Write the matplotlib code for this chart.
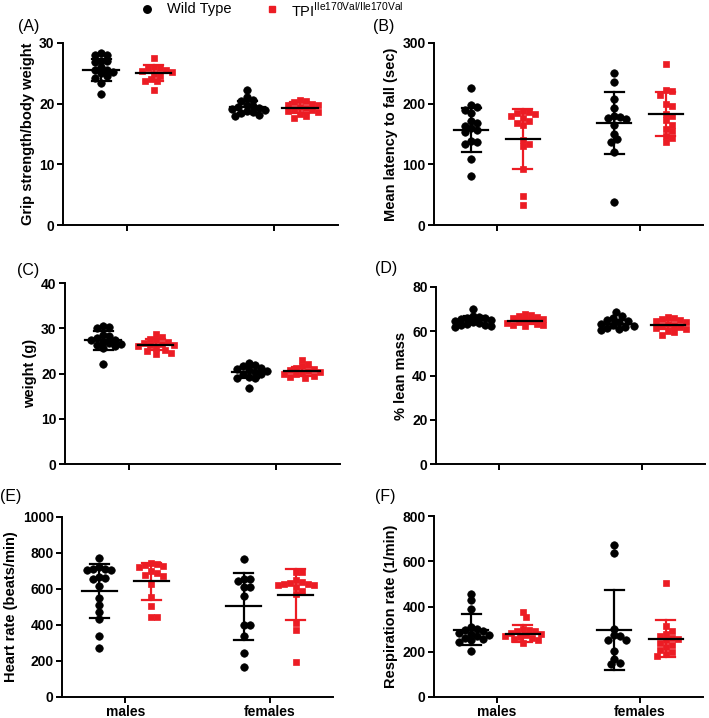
import numpy as np
import matplotlib
matplotlib.use("Agg")
import matplotlib.pyplot as plt
from matplotlib.lines import Line2D

plt.rcParams['font.family'] = ['Liberation Sans', 'DejaVu Sans']

groups = ['males', 'females']
series = ['Wild Type', 'TPI$^{\\mathregular{Ile170Val/Ile170Val}}$']

# (A) grip strength / body weight
grip_wt_m = [28.4, 28.1, 28.0, 27.1, 27.0, 26.8, 26.0, 25.6, 25.5, 25.3, 25.0, 24.6, 24.2, 23.4, 21.6]
grip_tpi_m = [27.5, 26.1, 25.9, 25.8, 25.6, 25.4, 25.2, 24.9, 24.6, 24.0, 23.8, 23.7, 22.2]
grip_wt_f = [22.2, 21.1, 20.6, 20.4, 19.8, 19.6, 19.5, 19.3, 19.2, 19.0, 18.8, 18.6, 18.4, 18.2, 17.9]
grip_tpi_f = [20.6, 20.4, 20.2, 20.0, 19.8, 19.7, 19.5, 19.3, 19.2, 19.0, 18.8, 18.6, 18.3, 17.9, 17.6]
grip_mean = [25.5, 25.0, 19.4, 19.3]
grip_sd = [1.8, 1.3, 1.0, 0.9]

# (B) rotarod latency
fall_wt_m = [226, 197, 195, 190, 185, 172, 168, 164, 160, 157, 153, 138, 136, 133, 108, 80]
fall_tpi_m = [188, 186, 184, 183, 180, 176, 172, 168, 165, 140, 133, 130, 92, 47, 33]
fall_wt_f = [250, 236, 207, 193, 180, 178, 177, 175, 165, 150, 141, 137, 120, 38]
fall_tpi_f = [266, 223, 221, 215, 200, 196, 183, 180, 173, 165, 158, 155, 146, 144, 136]
fall_mean = [157, 142, 168, 183]
fall_sd = [36, 49, 51, 37]

# (C) body weight
wt_wt_m = [30.6, 30.3, 30.1, 28.5, 28.2, 27.8, 27.5, 27.3, 27.0, 26.8, 26.5, 26.2, 26.0, 25.6, 22.2]
wt_tpi_m = [28.8, 28.0, 27.7, 27.3, 27.0, 26.8, 26.6, 26.4, 26.2, 26.0, 25.6, 25.3, 25.0, 24.5, 24.2]
wt_wt_f = [22.3, 21.8, 21.6, 21.3, 21.0, 20.8, 20.5, 20.3, 20.0, 19.8, 19.3, 19.0, 18.9, 16.8]
wt_tpi_f = [23.0, 22.0, 21.6, 21.2, 21.0, 20.8, 20.6, 20.4, 20.2, 20.0, 19.8, 19.5, 19.3, 19.0]
wt_mean = [27.3, 26.4, 20.3, 20.5]
wt_sd = [2.0, 1.2, 1.2, 1.0]

# (D) lean mass
lean_wt_m = [70.0, 67.0, 66.6, 66.2, 65.8, 65.4, 65.0, 64.6, 64.2, 63.8, 63.4, 63.0, 62.6, 62.2, 61.8]
lean_tpi_m = [67.8, 67.4, 67.0, 66.5, 66.0, 65.5, 65.0, 64.6, 64.2, 63.8, 63.4, 63.0, 62.6, 62.2]
lean_wt_f = [68.6, 66.8, 66.0, 65.2, 64.6, 64.0, 63.5, 63.0, 62.5, 62.0, 61.5, 61.0, 60.5]
lean_tpi_f = [66.6, 66.2, 65.6, 65.0, 64.5, 64.0, 63.5, 63.0, 62.5, 62.0, 61.5, 61.0, 60.3, 59.5, 58.5]
lean_mean = [64.9, 64.8, 63.3, 62.9]
lean_sd = [1.8, 1.3, 2.0, 2.0]

# (E) heart rate
hr_wt_m = [770, 724, 712, 710, 708, 705, 665, 660, 656, 618, 548, 511, 474, 433, 339, 274]
hr_tpi_m = [745, 740, 735, 730, 725, 700, 690, 680, 672, 628, 555, 507, 447, 443]
hr_wt_f = [767, 656, 655, 645, 612, 610, 563, 400, 398, 339, 246, 169]
hr_tpi_f = [697, 695, 650, 640, 635, 630, 628, 625, 620, 610, 590, 575, 410, 372, 196]
hr_mean = [590, 643, 504, 569]
hr_sd = [150, 102, 187, 141]

# (F) respiration rate
rr_wt_m = [457, 428, 389, 310, 300, 295, 290, 285, 280, 275, 270, 262, 255, 250, 245, 204]
rr_tpi_m = [376, 352, 300, 290, 298, 290, 285, 280, 275, 270, 265, 260, 255, 250, 240]
rr_wt_f = [674, 637, 302, 273, 270, 253, 250, 204, 170, 150, 145]
rr_tpi_f = [504, 312, 290, 278, 268, 262, 255, 250, 240, 232, 220, 208, 198, 190, 182]
rr_mean = [298, 279, 296, 258]
rr_sd = [70, 38, 176, 81]

RED = '#ec1c24'
colors = ['black', RED, 'black', RED]
markers = ['o', 's', 'o', 's']
offsets = [-0.18, 0.18, -0.18, 0.18]
XLIM = (-0.44, 1.44)


def swarm_x(vals, center, kx, ky, d=6.0):
    """place points side by side (in pixels) so they don't overlap"""
    vals = np.asarray(vals, dtype=float)
    xs = np.zeros(len(vals))
    placed = []
    steps = [0]
    for k in range(1, 14):
        steps += [k, -k]
    for i in np.argsort(-vals):
        y = vals[i] * ky
        for s in steps:
            x = s * d * 0.5
            ok = all((x - px) ** 2 + (y - py) ** 2 >= d ** 2 for px, py in placed)
            if ok:
                break
        placed.append((x, y))
        xs[i] = center + x / kx
    return xs


def panel(rect, data, means, sds, ylim, yticks, ylabel, xlabels=False):
    ax = fig.add_axes(rect)
    ax.set_xlim(*XLIM)
    ax.set_ylim(*ylim)
    w_px = rect[2] * fig.get_figwidth() * fig.dpi
    h_px = rect[3] * fig.get_figheight() * fig.dpi
    kx = w_px / (XLIM[1] - XLIM[0])
    ky = h_px / (ylim[1] - ylim[0])
    centers = [0 + offsets[0], 0 + offsets[1], 1 + offsets[2], 1 + offsets[3]]
    for vals, c, col, mk in zip(data, centers, colors, markers):
        xs = swarm_x(vals, c, kx, ky)
        ax.plot(xs, vals, ls='none', marker=mk, color=col,
                ms=5.4 if mk == 'o' else 5.0, mec=col, mew=0.5, zorder=2, clip_on=False)
    for c, m, s, col in zip(centers, means, sds, colors):
        ax.plot([c, c], [m - s, m + s], color=col, lw=1.6, zorder=3)
        ax.plot([c - 0.065, c + 0.065], [m + s, m + s], color=col, lw=1.6, zorder=3)
        ax.plot([c - 0.065, c + 0.065], [m - s, m - s], color=col, lw=1.6, zorder=3)
        ax.plot([c - 0.12, c + 0.12], [m, m], color='black', lw=1.6, zorder=4)
    ax.spines['top'].set_visible(False)
    ax.spines['right'].set_visible(False)
    for sp in ['left', 'bottom']:
        ax.spines[sp].set_linewidth(1.4)
    ax.set_yticks(yticks)
    ax.set_xticks([0, 1])
    if xlabels:
        ax.set_xticklabels(groups, fontweight='bold', fontsize=10)
    else:
        ax.set_xticklabels([])
    ax.tick_params(direction='out', length=4, width=1.4, labelsize=10, pad=2)
    for t in ax.get_yticklabels():
        t.set_fontweight('bold')
    ax.set_ylabel(ylabel, fontweight='bold', fontsize=10.5, labelpad=3)
    return ax


fig = plt.figure(figsize=(7.09, 7.18), dpi=100)

L1, W1 = 63 / 709, 275 / 709
L2, W2 = 434 / 709, 269 / 709
row1 = (718 - 225) / 718
row2 = (718 - 464) / 718
row3 = (718 - 697) / 718
H = 182 / 718

panel([L1, row1, W1, H], [grip_wt_m, grip_tpi_m, grip_wt_f, grip_tpi_f],
      grip_mean, grip_sd, (0, 30), [0, 10, 20, 30], 'Grip strength/body weight')
panel([L2, row1, W2, H], [fall_wt_m, fall_tpi_m, fall_wt_f, fall_tpi_f],
      fall_mean, fall_sd, (0, 300), [0, 100, 200, 300], 'Mean latency to fall (sec)')
panel([L1 + 2 / 709, row2, W1, 181 / 718], [wt_wt_m, wt_tpi_m, wt_wt_f, wt_tpi_f],
      wt_mean, wt_sd, (0, 40), [0, 10, 20, 30, 40], 'weight (g)')
panel([L2 + 2 / 709, row2, W2, 177 / 718], [lean_wt_m, lean_tpi_m, lean_wt_f, lean_tpi_f],
      lean_mean, lean_sd, (0, 80), [0, 20, 40, 60, 80], '% lean mass')
panel([L1 - 1 / 709, row3, W1 - 4 / 709, 180 / 718], [hr_wt_m, hr_tpi_m, hr_wt_f, hr_tpi_f],
      hr_mean, hr_sd, (0, 1000), [0, 200, 400, 600, 800, 1000], 'Heart rate (beats/min)', xlabels=True)
panel([L2, row3, W2, 181 / 718], [rr_wt_m, rr_tpi_m, rr_wt_f, rr_tpi_f],
      rr_mean, rr_sd, (0, 800), [0, 200, 400, 600, 800], 'Respiration rate (1/min)', xlabels=True)

# panel letters (pixel positions of the reference)
letters = {'(A)': (18, 27), '(B)': (373, 27), '(C)': (17, 270),
           '(D)': (375, 269), '(E)': (0, 496), '(F)': (375, 496)}
for txt, (px, py) in letters.items():
    fig.text(px / 709, 1 - py / 718, txt, fontsize=11.5, ha='left', va='center')

# legend across the top
fig.add_artist(Line2D([147 / 709], [1 - 9 / 718], marker='o', color='black',
                      ms=5.4, ls='none', transform=fig.transFigure))
fig.text(167 / 709, 1 - 9 / 718, series[0], fontsize=10.5, va='center', ha='left')
fig.add_artist(Line2D([272 / 709], [1 - 9 / 718], marker='s', color=RED,
                      ms=4.8, ls='none', transform=fig.transFigure))
fig.text(291 / 709, 1 - 10 / 718, series[1], fontsize=10.5, va='center', ha='left')

fig.savefig('out.png', dpi=100)
